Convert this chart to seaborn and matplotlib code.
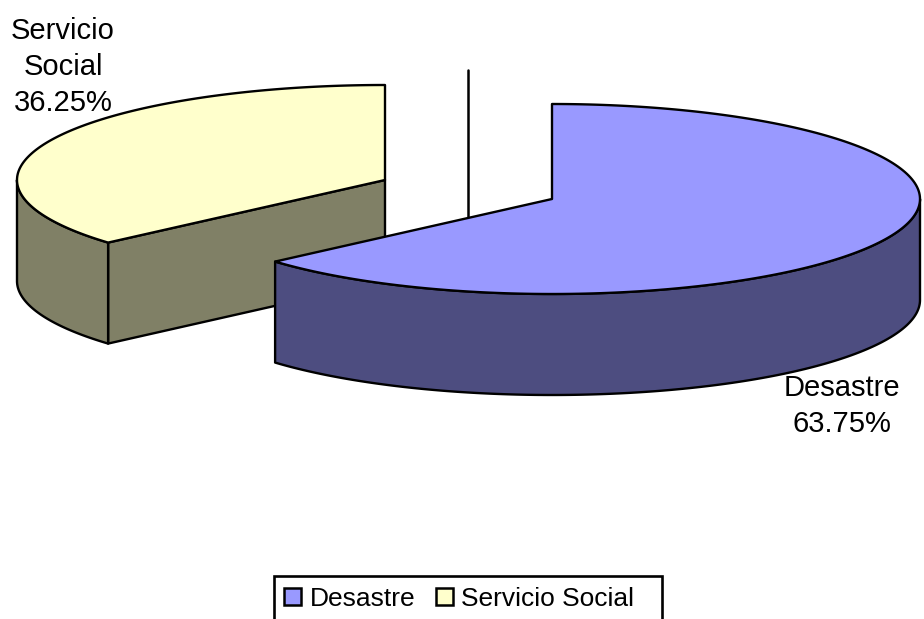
import numpy as np
import matplotlib
matplotlib.use("Agg")
import matplotlib.pyplot as plt
from matplotlib.patches import Polygon, Rectangle
import seaborn as sns

categories = ["Desastre", "Servicio Social"]
shares = [63.75, 36.25]
face_colors = ["#9999FF", "#FFFFCC"]
side_colors = ["#4D4D80", "#808066"]
label_lines = ["Desastre\n63.75%", "Servicio\nSocial\n36.25%"]

sns.set_theme(style="white")
plt.rcParams["font.family"] = ["Liberation Sans", "DejaVu Sans"]

W, H = 924, 619
fig = plt.figure(figsize=(W / 100, H / 100), dpi=100)
ax = fig.add_axes([0, 0, 1, 1])
ax.set_xlim(0, W)
ax.set_ylim(H, 0)
ax.axis("off")

RX, RY, DEPTH = 368, 95, 101
centers = [(552, 199), (385, 180)]
EDGE = dict(edgecolor="black", linewidth=1.7, joinstyle="round")
CUT_SHIFT = -0.7  # small projection correction of the shared cut angle

def rim(c, a0, a1, n=200):
    t = np.radians(np.linspace(a0, a1, n))
    return np.column_stack([c[0] + RX * np.sin(t), c[1] - RY * np.cos(t)])

cum = np.cumsum([0] + shares) / sum(shares) * 360
cut = cum[1] + CUT_SHIFT

# separator line behind the slices
ax.plot([468, 468], [70, 217], color="black", lw=1.8, zorder=1)

# Servicio Social slice (behind)
c = centers[1]
pt = rim(c, cut, cut, 1)[0]
ax.add_patch(Polygon([c, pt, pt + [0, DEPTH], np.array(c) + [0, DEPTH]],
                     facecolor=side_colors[1], zorder=2, **EDGE))
arc = rim(c, cut, 270)
ax.add_patch(Polygon(np.vstack([arc, (arc + [0, DEPTH])[::-1]]),
                     facecolor=side_colors[1], zorder=2, **EDGE))
ax.add_patch(Polygon(np.vstack([[c], rim(c, cut, cum[2])]),
                     facecolor=face_colors[1], zorder=3, **EDGE))

# Desastre slice (front)
c = centers[0]
arc = rim(c, 90, cut)
ax.add_patch(Polygon(np.vstack([arc, (arc + [0, DEPTH])[::-1]]),
                     facecolor=side_colors[0], zorder=4, **EDGE))
ax.add_patch(Polygon(np.vstack([[c], rim(c, cum[0], cut)]),
                     facecolor=face_colors[0], zorder=5, **EDGE))

FS = 21
ax.text(842, 406, label_lines[0], ha="center", va="center", fontsize=FS,
        linespacing=1.37, color="black", zorder=6)
ax.text(63, 67, label_lines[1], ha="center", va="center", fontsize=FS,
        linespacing=1.37, color="black", zorder=6)

# legend
ax.add_patch(Rectangle((274, 576), 388, 60, facecolor="white", edgecolor="black",
                       linewidth=1.9, zorder=6))
LFS = 19
for x_sw, x_t, name, col in zip((284, 436), (310, 461), categories, face_colors):
    ax.add_patch(Rectangle((x_sw, 588), 17, 17, facecolor=col, edgecolor="black",
                           linewidth=1.8, zorder=7))
    ax.text(x_t, 597, name, ha="left", va="center_baseline", fontsize=LFS, color="black", zorder=7)

fig.savefig("out.png", dpi=100, facecolor="white")
